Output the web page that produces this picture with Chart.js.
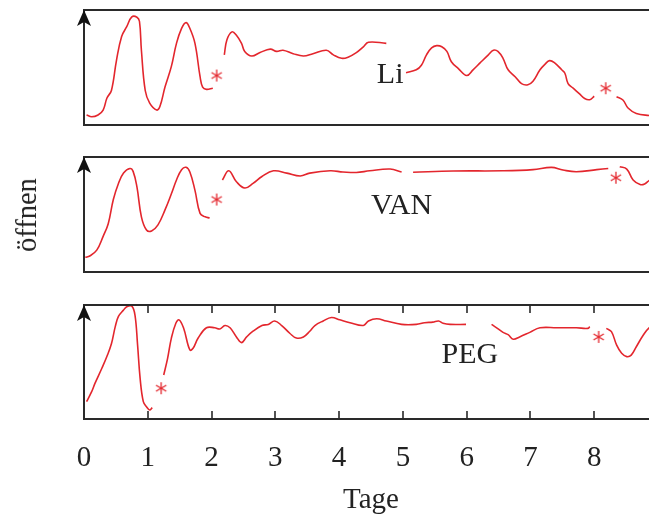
<!DOCTYPE html>
<html>
<head>
<meta charset="utf-8">
<script src="https://cdn.jsdelivr.net/npm/chart.js@4.4.0/dist/chart.umd.min.js"></script>
<style>
  html, body { margin: 0; padding: 0; background: #fff; overflow: hidden; }
  #wrap { position: relative; width: 649px; height: 518px; overflow: hidden; }
  canvas { position: absolute; left: 0; }
  #ylabel {
    position: absolute; left: 27px; top: 215px;
    transform: translate(-50%, -50%) rotate(-90deg);
    font: 28.5px 'Liberation Serif', serif; color: #222; white-space: nowrap;
  }
</style>
</head>
<body>
<div id="wrap">
  <canvas id="liChart" width="660" height="140" style="top:0px"></canvas>
  <canvas id="vanChart" width="660" height="140" style="top:145px"></canvas>
  <canvas id="pegChart" width="660" height="228" style="top:290px"></canvas>
  <div id="ylabel">öffnen</div>
</div>
<script>
// Werte (null = Lücke in der Kurve)
const liTage = [0.04, 0.12, 0.22, 0.30, 0.36, 0.43, 0.51, 0.59, 0.67, 0.75, 0.83, 0.87, 0.90, 0.96, 1.03, 1.14, 1.19, 1.27, 1.37, 1.45, 1.53, 1.60, 1.66, 1.74, 1.82, 1.86, 1.92, 2.02,
  2.11,
  2.20, 2.24, 2.32, 2.39, 2.47, 2.52, 2.63, 2.76, 2.92, 3.02, 3.12, 3.28, 3.44, 3.59, 3.80, 3.91, 4.04, 4.14, 4.27, 4.38, 4.46, 4.74,
  4.90,
  5.05, 5.21, 5.29, 5.37, 5.45, 5.53, 5.61, 5.69, 5.76, 5.87, 6.00, 6.10, 6.21, 6.34, 6.42, 6.49, 6.57, 6.65, 6.76, 6.86, 6.96, 7.04, 7.15, 7.23, 7.30, 7.38, 7.49, 7.54, 7.59, 7.67, 7.77, 7.85, 7.93, 8.00,
  8.18,
  8.35, 8.45, 8.53, 8.66, 8.86, 9.00];
const liWerte = [0.087, 0.072, 0.087, 0.13, 0.235, 0.30, 0.565, 0.77, 0.855, 0.94, 0.937, 0.90, 0.65, 0.30, 0.19, 0.13, 0.16, 0.33, 0.51, 0.71, 0.84, 0.89, 0.84, 0.71, 0.42, 0.33, 0.31, 0.32,
  null,
  0.61, 0.74, 0.81, 0.78, 0.71, 0.64, 0.60, 0.63, 0.66, 0.64, 0.65, 0.62, 0.60, 0.62, 0.65, 0.61, 0.58, 0.59, 0.63, 0.68, 0.72, 0.71,
  null,
  0.455, 0.48, 0.52, 0.61, 0.67, 0.69, 0.68, 0.64, 0.55, 0.49, 0.43, 0.48, 0.54, 0.61, 0.65, 0.64, 0.58, 0.48, 0.42, 0.36, 0.35, 0.38, 0.48, 0.53, 0.56, 0.54, 0.48, 0.45, 0.36, 0.32, 0.27, 0.23, 0.22, 0.25,
  null,
  0.246, 0.217, 0.148, 0.10, 0.083, 0.08];

const vanTage = [0.02, 0.09, 0.20, 0.30, 0.38, 0.46, 0.54, 0.62, 0.72, 0.77, 0.83, 0.90, 0.98, 1.06, 1.16, 1.27, 1.37, 1.45, 1.53, 1.60, 1.66, 1.74, 1.82, 1.90, 1.97,
  2.08,
  2.17, 2.27, 2.39, 2.52, 2.65, 2.79, 2.97, 3.18, 3.39, 3.54, 3.86, 4.06, 4.27, 4.48, 4.80, 4.98,
  5.07,
  5.16, 5.79, 6.57, 7.04, 7.33, 7.51, 7.72, 8.04, 8.22,
  8.31,
  8.40, 8.51, 8.61, 8.72, 8.79, 8.86, 9.00];
const vanWerte = [0.128, 0.139, 0.19, 0.31, 0.42, 0.63, 0.77, 0.86, 0.90, 0.875, 0.74, 0.48, 0.365, 0.357, 0.41, 0.54, 0.68, 0.80, 0.89, 0.91, 0.87, 0.71, 0.51, 0.48, 0.47,
  null,
  0.80, 0.88, 0.785, 0.73, 0.77, 0.83, 0.88, 0.86, 0.835, 0.86, 0.88, 0.87, 0.865, 0.88, 0.895, 0.87,
  null,
  0.867, 0.878, 0.88, 0.89, 0.91, 0.887, 0.872, 0.89, 0.90,
  null,
  0.916, 0.895, 0.80, 0.76, 0.765, 0.795, 0.84];

const pegTage = [0.04, 0.12, 0.17, 0.28, 0.36, 0.43, 0.49, 0.54, 0.62, 0.67, 0.75, 0.80, 0.84, 0.88, 0.93, 0.98, 1.03, 1.07,
  1.16,
  1.25, 1.31, 1.37, 1.44, 1.49, 1.56, 1.66, 1.71, 1.79, 1.92, 2.05, 2.13, 2.21, 2.29, 2.39, 2.47, 2.55, 2.65, 2.79, 2.89, 2.99, 3.10, 3.23, 3.33, 3.44, 3.54, 3.62, 3.75, 3.88, 4.01, 4.17, 4.38, 4.46, 4.59, 4.74, 4.98, 5.21, 5.34, 5.47, 5.56, 5.63, 5.74, 5.99,
  6.20,
  6.39, 6.47, 6.57, 6.65, 6.73, 6.83, 6.99, 7.15, 7.41, 7.72, 7.90, 7.93,
  8.06,
  8.19, 8.27, 8.35, 8.43, 8.51, 8.58, 8.66, 8.77, 8.86, 9.00];
const pegWerte = [0.152, 0.24, 0.31, 0.445, 0.55, 0.66, 0.81, 0.90, 0.956, 0.985, 0.99, 0.91, 0.65, 0.357, 0.152, 0.108, 0.079, 0.099,
  null,
  0.386, 0.53, 0.71, 0.84, 0.87, 0.80, 0.605, 0.62, 0.71, 0.80, 0.80, 0.79, 0.82, 0.80, 0.72, 0.67, 0.72, 0.77, 0.82, 0.83, 0.86, 0.82, 0.75, 0.71, 0.72, 0.77, 0.82, 0.86, 0.89, 0.87, 0.845, 0.82, 0.86, 0.88, 0.86, 0.83, 0.83, 0.845, 0.85, 0.86, 0.84, 0.83, 0.83,
  null,
  0.83, 0.80, 0.76, 0.74, 0.70, 0.72, 0.76, 0.80, 0.80, 0.80, 0.795, 0.81,
  null,
  0.795, 0.766, 0.65, 0.576, 0.547, 0.56, 0.634, 0.737, 0.80, 0.85];

// Sternchen (Tag, Wert)
const liSternTage = [2.08, 8.18];
const liSternWerte = [0.43, 0.32];
const vanSternTage = [2.08, 8.34];
const vanSternWerte = [0.63, 0.82];
const pegSternTage = [1.21, 8.07];
const pegSternWerte = [0.27, 0.72];

const xTicks = [0, 1, 2, 3, 4, 5, 6, 7, 8];

const ROT = '#e3262d';
const SCHRIFT = "'Liberation Serif', serif";

// kleines Sternchen als Punktstil
function sternchen() {
  const c = document.createElement('canvas');
  c.width = 14; c.height = 14;
  const g = c.getContext('2d');
  g.strokeStyle = ROT;
  g.lineWidth = 1.3;
  for (let k = 0; k < 3; k++) {
    const a = Math.PI / 2 + k * Math.PI / 3;
    g.beginPath();
    g.moveTo(7 - 6 * Math.cos(a), 7 - 6 * Math.sin(a));
    g.lineTo(7 + 6 * Math.cos(a), 7 + 6 * Math.sin(a));
    g.stroke();
  }
  return c;
}
const sternBild = sternchen();

function punkte(xs, ys) {
  return xs.map((x, i) => ({ x: x, y: ys[i] }));
}

// Rahmen, Pfeil, innere Ticks und Beschriftung
const rahmenPlugin = {
  id: 'rahmen',
  afterDatasetsDraw(chart, args, opts) {
    const { ctx, chartArea: a, scales: { x, y } } = chart;
    ctx.save();
    ctx.strokeStyle = '#2a2a2a';
    ctx.lineWidth = 2;
    ctx.strokeRect(a.left, a.top, a.right - a.left, a.bottom - a.top);
    if (opts.innenTicks) {
      ctx.lineWidth = 1.6;
      xTicks.forEach(t => {
        if (t === 0) return;
        const px = Math.round(x.getPixelForValue(t));
        ctx.beginPath();
        ctx.moveTo(px, a.top); ctx.lineTo(px, a.top + 8);
        ctx.moveTo(px, a.bottom); ctx.lineTo(px, a.bottom - 8);
        ctx.stroke();
      });
    }
    // Pfeilspitze
    ctx.fillStyle = '#111';
    ctx.beginPath();
    ctx.moveTo(a.left, a.top);
    ctx.lineTo(a.left + 7, a.top + 16);
    ctx.lineTo(a.left, a.top + 12);
    ctx.lineTo(a.left - 7, a.top + 16);
    ctx.closePath();
    ctx.fill();
    // Name
    ctx.font = '30px ' + SCHRIFT;
    ctx.fillStyle = '#222';
    ctx.textAlign = 'center';
    ctx.textBaseline = 'middle';
    ctx.fillText(opts.text, x.getPixelForValue(opts.bei[0]), y.getPixelForValue(opts.bei[1]));
    ctx.restore();
  }
};

function panel(id, tage, werte, sTage, sWerte, name, bei, padding, unten) {
  const xAchse = {
    type: 'linear', min: 0, max: 9,
    display: !!unten,
    grid: { display: false, drawTicks: false },
    border: { display: false },
    ticks: {
      stepSize: 1, padding: 22, color: '#222', maxRotation: 0, autoSkip: false,
      font: { family: SCHRIFT, size: 29 },
      callback: v => xTicks.includes(v) ? String(v) : ''
    },
    title: {
      display: true, text: 'Tage', color: '#222',
      font: { family: SCHRIFT, size: 29 },
      padding: { top: 0, bottom: 0 }
    }
  };
  if (unten) {
    xAchse.afterFit = s => {
      s.height = 99;
      s.paddingLeft = 0;
      s.paddingRight = 0;
    };
  }

  new Chart(document.getElementById(id), {
    type: 'line',
    data: {
      datasets: [{
        data: punkte(tage, werte),
        borderColor: ROT,
        borderWidth: 1.6,
        pointRadius: 0,
        tension: 0.4,
        spanGaps: false
      }, {
        type: 'scatter',
        data: punkte(sTage, sWerte),
        pointStyle: sternBild,
        pointRadius: 7
      }]
    },
    options: {
      responsive: false,
      animation: false,
      events: [],
      layout: { padding: padding, autoPadding: false },
      plugins: {
        legend: { display: false },
        tooltip: { enabled: false },
        rahmen: { text: name, bei: bei, innenTicks: !!unten }
      },
      scales: {
        x: xAchse,
        y: { type: 'linear', min: 0, max: 1, display: false }
      }
    },
    plugins: [rahmenPlugin]
  });
}

panel('liChart', liTage, liWerte, liSternTage, liSternWerte, 'Li', [4.8, 0.43],
  { top: 10, bottom: 15, left: 84, right: 2 }, false);
panel('vanChart', vanTage, vanWerte, vanSternTage, vanSternWerte, 'VAN', [4.98, 0.57],
  { top: 12, bottom: 13, left: 84, right: 2 }, false);
panel('pegChart', pegTage, pegWerte, pegSternTage, pegSternWerte, 'PEG', [6.05, 0.56],
  { top: 15, bottom: 0, left: 84, right: 2 }, true);
</script>
</body>
</html>
